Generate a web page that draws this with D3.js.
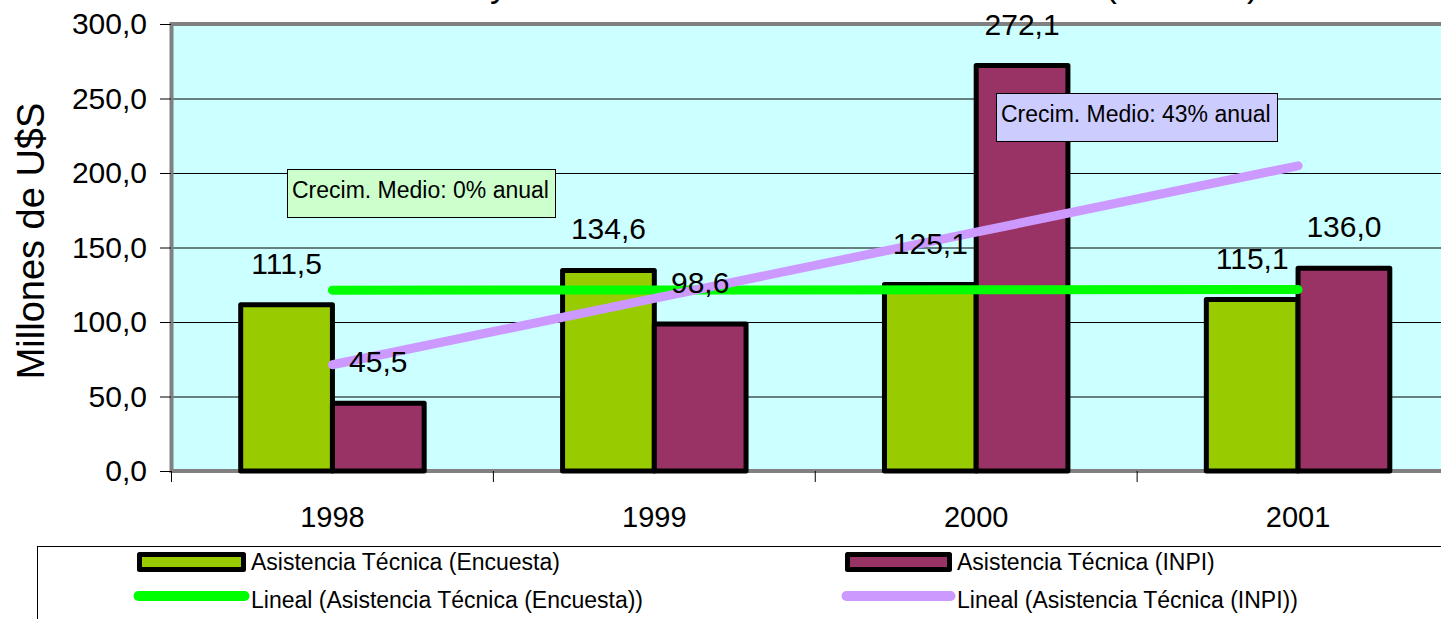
<!DOCTYPE html>
<html>
<head>
<meta charset="utf-8">
<script src="https://cdn.jsdelivr.net/npm/d3@7"></script>
<style>
  body { margin: 0; background: #fff; }
  svg { display: block; font-family: Arial, "Liberation Sans", sans-serif; }
</style>
</head>
<body>
<svg id="chart" width="1441" height="619"></svg>
<script>
// data
var years = ["1998", "1999", "2000", "2001"];
var encuesta = [111.5, 134.6, 125.1, 115.1];
var inpi = [45.5, 98.6, 272.1, 136.0];
var yTicks = [0, 50, 100, 150, 200, 250, 300];
var seriesNames = ["Asistencia Técnica (Encuesta)", "Asistencia Técnica (INPI)"];
var trendNames = ["Lineal (Asistencia Técnica (Encuesta))", "Lineal (Asistencia Técnica (INPI))"];
var notes = ["Crecim. Medio: 0% anual", "Crecim. Medio: 43% anual"];
var title = "Asistencia Técnica de la Encuesta y Asistencia Técnica informada al INPI (1998-01)";

var barColors = ["#99CC00", "#993366"],
    trendColors = ["#00FF00", "#CC99FF"],
    noteFills = ["#CCFFCC", "#CCCCFF"];

var plotLeft = 171.5, plotRight = 1459, plotTop = 24, plotBottom = 471;

var locale = d3.formatLocale({ decimal: ",", thousands: ".", grouping: [3], currency: ["", ""] });
var fmt = locale.format(".1f");

var svg = d3.select("#chart");

var y = d3.scaleLinear().domain([0, 300]).range([plotBottom, plotTop]);
var x = d3.scaleBand().domain(years).range([plotLeft, plotRight])
    .paddingInner(0.43).paddingOuter(0.215);
var xs = d3.scaleBand().domain([0, 1]).range([0, x.bandwidth()]);

// title, mostly above the top edge (cut off like the original)
var t = svg.append("text")
    .attr("y", -3)
    .attr("font-size", 35.5)
    .text(title);
var pre = t.node().getSubStringLength(0, title.indexOf(" y ") + 1);
t.attr("x", 490 - pre);

// plot area
svg.append("rect")
    .attr("x", plotLeft).attr("y", plotTop)
    .attr("width", plotRight - plotLeft).attr("height", plotBottom - plotTop)
    .attr("fill", "#CCFFFF");

svg.append("g").selectAll("line")
  .data(yTicks.slice(1, -1))
  .enter().append("line")
    .attr("x1", plotLeft).attr("x2", plotRight)
    .attr("y1", d => y(d) + 0.5).attr("y2", d => y(d) + 0.5)
    .attr("stroke", "#000").attr("stroke-width", 1);

svg.append("rect")
    .attr("x", plotLeft).attr("y", plotTop)
    .attr("width", plotRight - plotLeft).attr("height", plotBottom - plotTop)
    .attr("fill", "none").attr("stroke", "#808080").attr("stroke-width", 4);

// y axis
var yAxis = svg.append("g")
    .attr("transform", "translate(" + (plotLeft - 0.5) + ",0)")
    .call(d3.axisLeft(y).tickValues(yTicks).tickSize(11).tickPadding(13).tickFormat(fmt));
yAxis.select(".domain").remove();
yAxis.selectAll("text").attr("font-size", 30).attr("font-family", "Arial, 'Liberation Sans', sans-serif").attr("fill", "#000");
yAxis.selectAll("line").attr("stroke", "#000");

svg.append("text")
    .attr("transform", "translate(44,241) rotate(-90)")
    .attr("text-anchor", "middle")
    .attr("font-size", 38)
    .text("Millones de U$S");

// x axis: ticks on the category borders
var step = x.step();
svg.append("g").selectAll("line")
  .data(d3.range(years.length + 1))
  .enter().append("line")
    .attr("x1", i => plotLeft + i * step).attr("x2", i => plotLeft + i * step)
    .attr("y1", plotBottom).attr("y2", plotBottom + 11)
    .attr("stroke", "#000");

svg.append("g").selectAll("text")
  .data(years)
  .enter().append("text")
    .attr("x", d => x(d) + x.bandwidth() / 2)
    .attr("y", 527)
    .attr("text-anchor", "middle")
    .attr("font-size", 29)
    .text(d => d);

// bars
var series = [encuesta, inpi];
series.forEach(function(vals, s) {
  svg.append("g").selectAll("rect")
    .data(vals)
    .enter().append("rect")
      .attr("x", (d, i) => x(years[i]) + xs(s))
      .attr("y", d => y(d))
      .attr("width", xs.bandwidth())
      .attr("height", d => plotBottom - y(d))
      .attr("fill", barColors[s])
      .attr("stroke", "#000").attr("stroke-width", 5)
      .attr("stroke-linejoin", "round");
});

// linear trend lines (least squares over the four years)
function fit(vals) {
  var n = vals.length, mx = (n - 1) / 2, my = d3.mean(vals), sxy = 0, sxx = 0;
  vals.forEach(function(v, i) { sxy += (i - mx) * (v - my); sxx += (i - mx) * (i - mx); });
  var b = sxy / sxx;
  return vals.map((v, i) => my + b * (i - mx));
}
var line = d3.line()
    .x((d, i) => x(years[i]) + x.bandwidth() / 2)
    .y(d => y(d));
series.forEach(function(vals, s) {
  svg.append("path")
      .datum(fit(vals))
      .attr("d", line)
      .attr("fill", "none")
      .attr("stroke", trendColors[s]).attr("stroke-width", 9)
      .attr("stroke-linecap", "round");
});

// value labels
series.forEach(function(vals, s) {
  svg.append("g").selectAll("text")
    .data(vals)
    .enter().append("text")
      .attr("x", (d, i) => x(years[i]) + xs(s) + xs.bandwidth() / 2)
      .attr("y", d => y(d) - 31)
      .attr("text-anchor", "middle")
      .attr("font-size", 30)
      .text(d => fmt(d));
});

// growth notes
var noteBoxes = [
  { x: 287, y: 169, w: 268, h: 48 },
  { x: 996, y: 93, w: 281, h: 48 }
];
noteBoxes.forEach(function(b, k) {
  svg.append("rect")
      .attr("x", b.x + 0.5).attr("y", b.y + 0.5)
      .attr("width", b.w).attr("height", b.h)
      .attr("fill", noteFills[k]).attr("stroke", "#000").attr("stroke-width", 1);
  svg.append("text")
      .attr("x", b.x + 5).attr("y", b.y + 29)
      .attr("font-size", 23)
      .text(notes[k]);
});

// legend
svg.append("rect")
    .attr("x", 37.5).attr("y", 546.5)
    .attr("width", 1500).attr("height", 200)
    .attr("fill", "#fff").attr("stroke", "#000").attr("stroke-width", 1);

var cols = [{ kx: 139.5, kw: 104, tx: 251 }, { kx: 847.5, kw: 102, tx: 957 }];
cols.forEach(function(c, s) {
  svg.append("rect")
      .attr("x", c.kx).attr("y", 554.5)
      .attr("width", c.kw).attr("height", 15)
      .attr("fill", barColors[s]).attr("stroke", "#000").attr("stroke-width", 5)
      .attr("stroke-linejoin", "round");
  svg.append("text").attr("x", c.tx).attr("y", 570).attr("font-size", 23).text(seriesNames[s]);
  svg.append("line")
      .attr("x1", c.kx - 1).attr("x2", c.kx + c.kw + 1)
      .attr("y1", 596).attr("y2", 596)
      .attr("stroke", trendColors[s]).attr("stroke-width", 10)
      .attr("stroke-linecap", "round");
  svg.append("text").attr("x", c.tx).attr("y", 608).attr("font-size", 23).text(trendNames[s]);
});
</script>
</body>
</html>
